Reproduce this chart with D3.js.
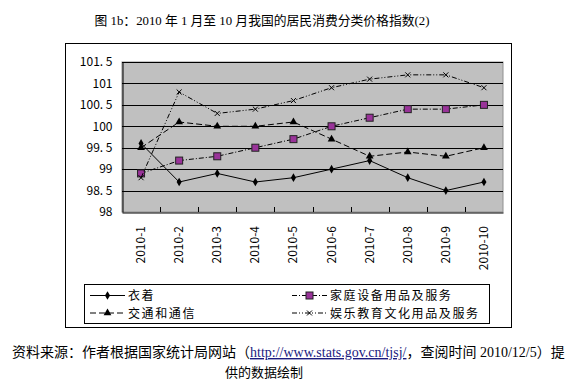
<!DOCTYPE html>
<html>
<head>
<meta charset="utf-8">
<script src="https://cdn.jsdelivr.net/npm/d3@7"></script>
<style>
  body { margin: 0; background: #fff; }
  svg { display: block; }
</style>
</head>
<body>
<svg width="576" height="386"></svg>
<script>
var months = ["2010-1", "2010-2", "2010-3", "2010-4", "2010-5", "2010-6", "2010-7", "2010-8", "2010-9", "2010-10"];
var clothing = [99.6, 98.7, 98.9, 98.7, 98.8, 99.0, 99.2, 98.8, 98.5, 98.7];
var household = [98.9, 99.2, 99.3, 99.5, 99.7, 100.0, 100.2, 100.4, 100.4, 100.5];
var transport = [99.5, 100.1, 100.0, 100.0, 100.1, 99.7, 99.3, 99.4, 99.3, 99.5];
var recreation = [98.8, 100.8, 100.3, 100.4, 100.6, 100.9, 101.1, 101.2, 101.2, 100.9];
var yTicks = [98, 98.5, 99, 99.5, 100, 100.5, 101, 101.5];
var yTickLabels = ["98", "98. 5", "99", "99. 5", "100", "100. 5", "101", "101. 5"];
var seriesNames = ["衣着", "家庭设备用品及服务", "交通和通信", "娱乐教育文化用品及服务"];

var svg = d3.select("svg");
var cjk = "'Liberation Serif', 'Noto Sans CJK SC', serif";
var cjkSans = "'Noto Sans CJK SC', 'Liberation Sans', sans-serif";

// title
svg.append("text")
    .attr("x", 262).attr("y", 25)
    .attr("text-anchor", "middle")
    .attr("font-family", cjk)
    .attr("font-size", 12.8)
    .text("图 1b：2010 年 1 月至 10 月我国的居民消费分类价格指数(2)");

// outer box
svg.append("rect")
    .attr("x", 65.5).attr("y", 43.5)
    .attr("width", 446).attr("height", 284)
    .attr("fill", "#fff").attr("stroke", "#000");

var plot = {left: 122, top: 62, right: 503, bottom: 212};

var x = d3.scaleBand().domain(months).range([plot.left, plot.right]);
var y = d3.scaleLinear().domain([98, 101.5]).range([plot.bottom, plot.top]);

svg.append("rect")
    .attr("x", plot.left).attr("y", plot.top)
    .attr("width", plot.right - plot.left).attr("height", plot.bottom - plot.top)
    .attr("fill", "#c0c0c0").attr("stroke", "#909090");

// gridlines
svg.append("g").selectAll("line")
  .data(yTicks.slice(1))
  .enter().append("line")
    .attr("x1", plot.left).attr("x2", plot.right)
    .attr("y1", function(d) { return Math.round(y(d)) + 0.5; })
    .attr("y2", function(d) { return Math.round(y(d)) + 0.5; })
    .attr("stroke", "#000");

// y axis
var yAxis = svg.append("g")
    .attr("transform", "translate(" + (plot.left + 0.5) + ",0)")
    .call(d3.axisLeft(y).tickValues(yTicks).tickSize(0).tickPadding(10)
        .tickFormat(function(d, i) { return yTickLabels[i]; }));
yAxis.select(".domain").attr("stroke", "#000");
yAxis.selectAll("text")
    .attr("font-family", cjkSans)
    .attr("font-size", 12)
    .attr("fill", "#000");

// x axis
var xAxis = svg.append("g")
    .attr("transform", "translate(0," + (plot.bottom + 0.5) + ")")
    .call(d3.axisBottom(x).tickSize(0).tickFormat(""));
xAxis.select(".domain").attr("stroke", "#000");
svg.append("g").selectAll("line")
  .data(months.slice(1))
  .enter().append("line")
    .attr("x1", function(d) { return Math.round(x(d)) + 0.5; })
    .attr("x2", function(d) { return Math.round(x(d)) + 0.5; })
    .attr("y1", plot.bottom - 5).attr("y2", plot.bottom)
    .attr("stroke", "#000");
svg.append("g").selectAll("text")
  .data(months)
  .enter().append("text")
    .attr("transform", function(d) {
      return "translate(" + (x(d) + x.bandwidth() / 2 + 4) + "," + (plot.bottom + 14) + ") rotate(-90)";
    })
    .attr("text-anchor", "end")
    .attr("font-family", cjkSans)
    .attr("font-size", 12)
    .text(function(d) { return d; });

var cx = function(d, i) { return x(months[i]) + x.bandwidth() / 2; };
var line = d3.line().x(cx).y(function(d) { return y(d); });

var styles = [
  {data: clothing, dash: null, marker: "diamond"},
  {data: household, dash: "5,2,1,2", marker: "square"},
  {data: transport, dash: "6,3", marker: "triangle"},
  {data: recreation, dash: "5,2,1,2,1,2", marker: "cross"}
];

function drawMarker(g, type, px, py) {
  if (type === "diamond") {
    g.append("path").attr("d", d3.symbol(d3.symbolDiamond, 22)())
      .attr("transform", "translate(" + px + "," + py + ")").attr("fill", "#000");
  } else if (type === "square") {
    g.append("rect").attr("x", px - 3.5).attr("y", py - 3.5).attr("width", 7).attr("height", 7)
      .attr("fill", "#993399").attr("stroke", "#222").attr("stroke-width", 1);
  } else if (type === "triangle") {
    g.append("path").attr("d", d3.symbol(d3.symbolTriangle, 26)())
      .attr("transform", "translate(" + px + "," + py + ")").attr("fill", "#000");
  } else {
    g.append("path").attr("d", d3.symbol(d3.symbolX, 18)())
      .attr("transform", "translate(" + px + "," + py + ")")
      .attr("fill", "none").attr("stroke", "#000").attr("stroke-width", 1);
  }
}

styles.forEach(function(s) {
  svg.append("path")
      .datum(s.data)
      .attr("d", line)
      .attr("fill", "none")
      .attr("stroke", "#000")
      .attr("stroke-width", 1)
      .attr("stroke-dasharray", s.dash);
  var g = svg.append("g");
  s.data.forEach(function(d, i) { drawMarker(g, s.marker, cx(d, i), y(d)); });
});

// legend
svg.append("rect")
    .attr("x", 84.5).attr("y", 284.5)
    .attr("width", 405).attr("height", 39)
    .attr("fill", "#fff").attr("stroke", "#000");

var legendPos = [
  {x: 90, y: 295.5}, {x: 292, y: 295.5},
  {x: 90, y: 313}, {x: 292, y: 313}
];
[0, 1, 2, 3].forEach(function(k, i) {
  var s = styles[k], p = legendPos[i];
  svg.append("line")
      .attr("x1", p.x).attr("x2", p.x + 35)
      .attr("y1", p.y).attr("y2", p.y)
      .attr("stroke", "#000")
      .attr("stroke-dasharray", s.dash);
  var g = svg.append("g");
  drawMarker(g, s.marker, p.x + 17.5, p.y);
  svg.append("text")
      .attr("x", p.x + 38).attr("y", p.y + 4.5)
      .attr("font-family", cjkSans)
      .attr("font-size", 12)
      .attr("letter-spacing", 1.6)
      .text(seriesNames[k]);
});

// source note
var note = svg.append("text")
    .attr("x", 12).attr("y", 357)
    .attr("font-family", cjk)
    .attr("font-size", 14);
note.append("tspan").text("资料来源：作者根据国家统计局网站（");
note.append("tspan").attr("fill", "#1a1a80").attr("text-decoration", "underline")
    .text("http://www.stats.gov.cn/tjsj/");
note.append("tspan").text("，查阅时间 2010/12/5）提");
svg.append("text")
    .attr("x", 225).attr("y", 377)
    .attr("font-family", cjk)
    .attr("font-size", 13)
    .text("供的数据绘制");
</script>
</body>
</html>
